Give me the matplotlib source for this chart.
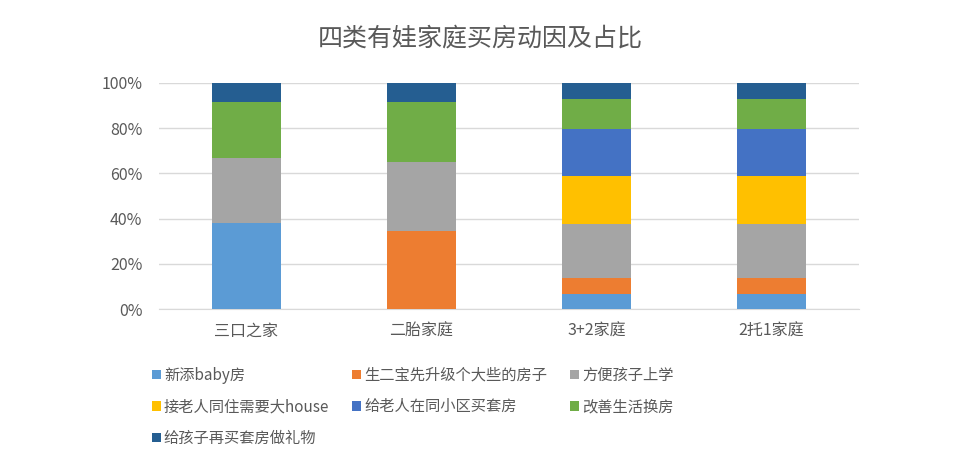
import matplotlib
matplotlib.use("Agg")
import matplotlib.pyplot as plt
import numpy as np
from matplotlib.ticker import PercentFormatter

plt.rcParams['font.family'] = ['Noto Sans CJK SC', 'DejaVu Sans']

categories = ['三口之家', '二胎家庭', '3+2家庭', '2托1家庭']
series_names = ['新添baby房', '生二宝先升级个大些的房子', '方便孩子上学',
                '接老人同住需要大house', '给老人在同小区买套房', '改善生活换房',
                '给孩子再买套房做礼物']
baby = [38.0, 0.0, 6.8, 6.8]
erbao = [0.0, 34.5, 7.1, 7.1]
school = [28.7, 30.4, 23.7, 23.7]
elder_big = [0.0, 0.0, 21.2, 21.2]
elder_near = [0.0, 0.0, 20.8, 20.8]
improve = [24.8, 26.6, 13.2, 13.2]
gift = [8.5, 8.5, 7.2, 7.2]
series_values = [baby, erbao, school, elder_big, elder_near, improve, gift]
colors = ['#5B9BD5', '#ED7D31', '#A5A5A5', '#FFC000', '#4472C4', '#70AD47', '#255E91']

fig = plt.figure(figsize=(9.6, 4.5), dpi=100)
ax = fig.add_axes([0.1656, 0.3133, 0.729, 0.5023])

x = np.arange(len(categories))
bottom = np.zeros(len(categories))
for name, vals, c in zip(series_names, series_values, colors):
    v = np.array(vals)
    ax.bar(x, v, width=0.395, bottom=bottom, color=c, label=name, zorder=3)
    bottom += v

ax.set_xlim(-0.5, 3.5)
ax.set_ylim(0, 100)
ax.set_yticks(np.arange(0, 101, 20))
ax.yaxis.set_major_formatter(PercentFormatter(decimals=0))
ax.set_xticks(x)
ax.set_xticklabels(categories)
ax.grid(axis='y', color='#D9D9D9', linewidth=1, zorder=0)
for s in ['top', 'right', 'left']:
    ax.spines[s].set_visible(False)
ax.spines['bottom'].set_color('#D9D9D9')
ax.tick_params(axis='both', length=0, colors='#595959', labelsize=11.5)
ax.tick_params(axis='y', pad=12)
ax.tick_params(axis='x', pad=10)

fig.text(0.5, 0.915, '四类有娃家庭买房动因及占比', ha='center', va='center',
         fontsize=18, color='#595959')

handles, labels = ax.get_legend_handles_labels()
order = [0, 3, 6, 1, 4, 2, 5]
leg = fig.legend([handles[i] for i in order], [labels[i] for i in order],
                 loc='upper left', bbox_to_anchor=(0.158, 0.185), ncol=3,
                 frameon=False, fontsize=11, handlelength=0.6, handleheight=0.6,
                 handletextpad=0.2, columnspacing=1.5, labelspacing=0.95,
                 borderaxespad=0, borderpad=0)
for t in leg.get_texts():
    t.set_color('#595959')

fig.savefig('out.png', dpi=100, facecolor='white')
